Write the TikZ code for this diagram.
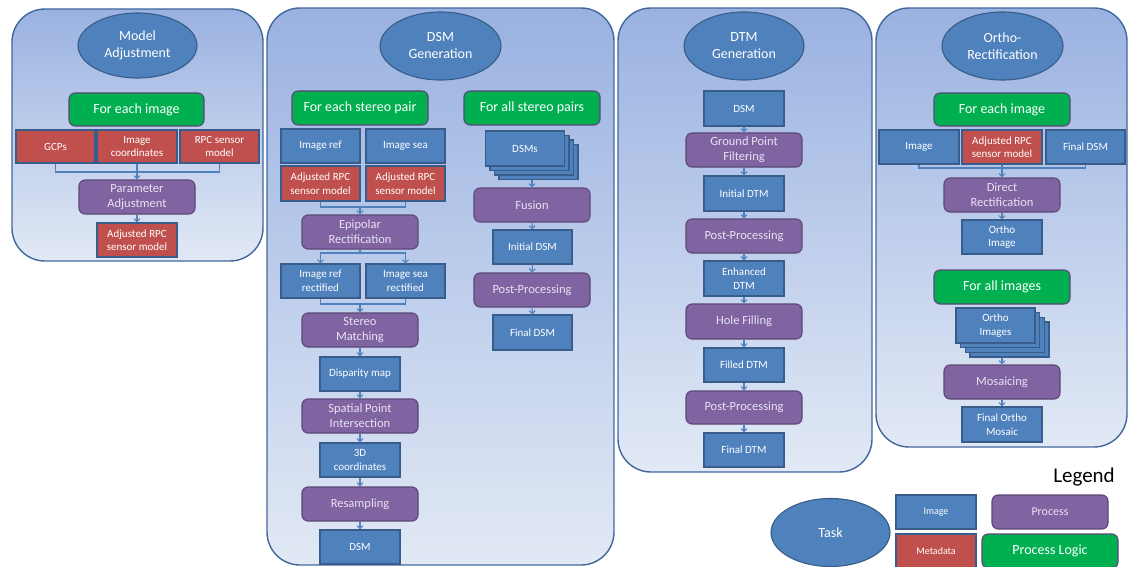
\documentclass[tikz,border=0pt]{standalone}
\usepackage{fontspec}
\setmainfont{Carlito}
\usetikzlibrary{shapes.geometric,arrows.meta}
\definecolor{imgfill}{HTML}{4F81BD}
\definecolor{imgline}{HTML}{385D8A}
\definecolor{metafill}{HTML}{C0504D}
\definecolor{procfill}{HTML}{8064A2}
\definecolor{procline}{HTML}{5C4776}
\definecolor{proctext}{HTML}{E8E2F2}
\definecolor{logicfill}{HTML}{00B050}
\definecolor{paneltop}{HTML}{9AB2E1}
\definecolor{panelbot}{HTML}{E2E9F5}
\definecolor{panelline}{HTML}{41679C}
\definecolor{arrowc}{HTML}{4F81BD}
\tikzset{
 box/.style={draw=imgline, line width=1.1pt, inner sep=1pt, align=center, text=white, font=\fontsize{11}{13.5}\selectfont},
 img/.style={box, fill=imgfill, minimum width=79pt, minimum height=34pt},
 meta/.style={box, fill=metafill, minimum width=79pt, minimum height=34pt},
 proc/.style={box, draw=procline, fill=procfill, rounded corners=6pt, minimum width=116pt, minimum height=34pt, font=\fontsize{12.5}{15}\selectfont, text=proctext},
 logic/.style={box, draw=procline, fill=logicfill, rounded corners=6pt, minimum width=136pt, minimum height=33pt, font=\fontsize{14}{16}\selectfont},
 task/.style={ellipse, draw=imgline, line width=1.1pt, fill=imgfill, minimum width=120pt, minimum height=67pt, inner sep=0pt, align=center, text=white, font=\fontsize{14}{17}\selectfont},
 panel/.style={rounded corners=33pt, top color=paneltop, bottom color=panelbot, draw=panelline, line width=1.4pt},
 conn/.style={draw=arrowc, line width=1.1pt},
 arr/.style={conn, -{Straight Barb[length=3pt,width=6pt]}},
}
\begin{document}
\begin{tikzpicture}[x=1pt,y=-1pt]
\useasboundingbox (0,0) rectangle (1129,567);
% panels
\path[panel] (12,9) rectangle (263,261);
\path[panel] (267,8) rectangle (614,565);
\path[panel] (618,8) rectangle (872,472);
\path[panel] (876,8) rectangle (1127,447);

% ---- Model Adjustment
\node[task, minimum width=119pt, minimum height=65pt] (ma) at (137.5,45.5) {Model\\Adjustment};
\node[logic, minimum width=135pt] (fe1) at (136.5,109.5) {For each image};
\node[meta, minimum height=33pt] (gcp) at (55.5,146.5) {GCPs};
\node[meta, minimum width=80pt, minimum height=33pt] (imc) at (137,146.5) {Image\\coordinates};
\node[meta, minimum height=33pt] (rpc) at (219.5,146.5) {RPC sensor\\model};
\node[proc] (pa) at (137,197) {Parameter\\Adjustment};
\node[meta, minimum width=80pt] (arpc) at (137,240) {Adjusted RPC\\sensor model};
\coordinate (j1) at (137,172);
\draw[conn] (gcp.south) |- (j1) -| (rpc.south);
\draw[arr] (imc.south) -- (pa.north);
\draw[arr] (pa.south) -- (arpc.north);

% ---- DSM Generation
\node[task, minimum width=121pt, minimum height=68pt] (dsmg) at (440.5,46) {DSM\\Generation};
\node[logic, minimum height=34pt] (fesp) at (360,108) {For each stereo pair};
\node[logic, minimum height=34pt] (fasp) at (532,108) {For all stereo pairs};
\node[img] (iref) at (320.5,146) {Image ref};
\node[img] (isea) at (405.5,146) {Image sea};
\node[meta, minimum height=35pt] (arpca) at (320.5,183.5) {Adjusted RPC\\sensor model};
\node[meta, minimum height=35pt] (arpcb) at (405.5,183.5) {Adjusted RPC\\sensor model};
\node[proc] (epi) at (360,232) {Epipolar\\Rectification};
\node[img] (irr) at (320.5,281) {Image ref\\rectified};
\node[img] (isr) at (405.5,281) {Image sea\\rectified};
\node[proc] (sm) at (360,330) {Stereo\\Matching};
\node[img, minimum width=80pt] (dm) at (360,374) {Disparity map};
\node[proc] (spi) at (360,416) {Spatial Point\\Intersection};
\node[img, minimum width=80pt] (c3d) at (360,460) {3D\\coordinates};
\node[proc] (res) at (360,504) {Resampling};
\node[img, minimum width=80pt] (dsm) at (360,547) {DSM};
\coordinate (j2) at (360,207);
\draw[conn] (arpca.south) |- (j2) -| (arpcb.south);
\draw[arr] (j2) -- (epi.north);
\coordinate (j3) at (360,253);
\draw[conn] (epi.south) -- (j3);
\draw[arr] (j3) -| (irr.north);
\draw[arr] (j3) -| (isr.north);
\coordinate (j4) at (360,304);
\draw[conn] (irr.south) |- (j4) -| (isr.south);
\draw[arr] (j4) -- (sm.north);
\draw[arr] (sm.south) -- (dm.north);
\draw[arr] (dm.south) -- (spi.north);
\draw[arr] (spi.south) -- (c3d.north);
\draw[arr] (c3d.south) -- (res.north);
\draw[arr] (res.south) -- (dsm.north);

\node[img, minimum height=35pt] (dsms3) at (538.5,162) {};
\node[img, minimum height=35pt] (dsms2) at (534,157.5) {};
\node[img, minimum height=35pt] (dsms1) at (529.5,153) {};
\node[img, minimum height=35pt] (dsms) at (525,148.5) {DSMs};
\node[proc] (fus) at (532,205) {Fusion};
\node[img] (idsm) at (532.5,247) {Initial DSM};
\node[proc] (pp) at (532,290) {Post-Processing};
\node[img, minimum height=35pt] (fdsm) at (532.5,332.5) {Final DSM};
\draw[arr] (fus.north |- dsms3.south) -- (fus.north);
\draw[arr] (fus.south) -- (idsm.north);
\draw[arr] (idsm.south) -- (pp.north);
\draw[arr] (pp.south) -- (fdsm.north);

% ---- DTM Generation
\node[task, minimum height=68pt] (dtmg) at (744,46) {DTM\\Generation};
\node[img, minimum width=80pt, minimum height=35pt] (dsm3) at (744,108.5) {DSM};
\node[proc] (gpf) at (744,150) {Ground Point\\Filtering};
\node[img, minimum width=80pt, minimum height=35pt] (idtm) at (744,193.5) {Initial DTM};
\node[proc] (ppa) at (744,236) {Post-Processing};
\node[img, minimum width=80pt, minimum height=35pt] (edtm) at (744,278.5) {Enhanced\\DTM};
\node[proc, minimum height=35pt] (hf) at (744,321.5) {Hole Filling};
\node[img, minimum width=80pt] (fdtm) at (744,365) {Filled DTM};
\node[proc, minimum height=33pt] (ppb) at (744,407.5) {Post-Processing};
\node[img, minimum width=80pt] (fdtm2) at (744,450) {Final DTM};
\draw[arr] (dsm3.south) -- (gpf.north);
\draw[arr] (gpf.south) -- (idtm.north);
\draw[arr] (idtm.south) -- (ppa.north);
\draw[arr] (ppa.south) -- (edtm.north);
\draw[arr] (edtm.south) -- (hf.north);
\draw[arr] (hf.south) -- (fdtm.north);
\draw[arr] (fdtm.south) -- (ppb.north);
\draw[arr] (ppb.south) -- (fdtm2.north);

% ---- Ortho-Rectification
\node[task, minimum width=121pt, minimum height=68pt] (orth) at (1002.5,46) {Ortho-\\Rectification};
\node[logic] (fe4) at (1002,109.5) {For each image};
\node[img, minimum width=80pt] (im4) at (919,147) {Image};
\node[meta, minimum width=80pt] (arpc4) at (1002,147) {Adjusted RPC\\sensor model};
\node[img] (fdsm4) at (1085.5,147) {Final DSM};
\node[proc] (dr) at (1002,195) {Direct\\Rectification};
\node[img, minimum width=80pt] (oi) at (1002,237) {Ortho\\Image};
\node[logic, minimum height=34pt] (fai) at (1002,287) {For all images};
\node[img, minimum height=35pt] (ois3) at (1009.5,339.5) {};
\node[img, minimum height=35pt] (ois2) at (1004.8,334.8) {};
\node[img, minimum height=35pt] (ois1) at (1000.2,330.2) {};
\node[img, minimum height=35pt] (ois) at (995.5,325.5) {Ortho\\Images};
\node[proc] (mos) at (1002,382) {Mosaicing};
\node[img, minimum width=80pt, minimum height=35pt] (fom) at (1002,424.5) {Final Ortho\\Mosaic};
\coordinate (j5) at (1002,168);
\draw[conn] (im4.south) |- (j5) -| (fdsm4.south);
\draw[arr] (arpc4.south) -- (dr.north);
\draw[arr] (dr.south) -- (oi.north);
\draw[arr] (mos.north |- ois3.south) -- (mos.north);
\draw[arr] (mos.south) -- (fom.north);

% ---- Legend
\node[font=\fontsize{21}{24}\selectfont, inner sep=0pt] (legend) at (1084,477) {Legend};
\node[task, minimum width=119pt, minimum height=68pt] (ltask) at (830.5,532.5) {Task};
\node[img, minimum width=80pt, font=\fontsize{10}{12}\selectfont] (limg) at (936,512) {Image};
\node[meta, minimum width=80pt, font=\fontsize{10}{12}\selectfont] (lmeta) at (936,551) {Metadata};
\node[proc, font=\fontsize{12}{14}\selectfont] (lproc) at (1050,512) {Process};
\node[logic, minimum height=34pt] (llogic) at (1050,551) {Process Logic};
\end{tikzpicture}
\end{document}
